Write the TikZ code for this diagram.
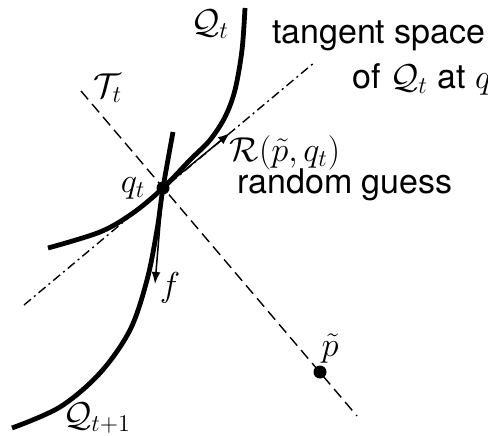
\documentclass[tikz,border=0pt]{standalone}
\usepackage[no-math]{fontspec}
\setmainfont{TeX Gyre Heros}
\usetikzlibrary{arrows.meta,calc}
\begin{document}
\begin{tikzpicture}[x=0.5pt,y=-0.5pt,
  curve/.style={line width=2.4pt},
  normline/.style={line width=0.7pt, dash pattern=on 5.5pt off 3pt},
  tanline/.style={line width=0.7pt, dash pattern=on 4.5pt off 2pt on 1pt off 2pt},
  vec/.style={line width=0.75pt, -{Latex[length=6pt,width=4.4pt]}},
  dotpt/.style={circle, fill=black, inner sep=0pt, minimum size=6.5pt},
  lbl/.style={inner sep=0pt, font=\fontsize{17}{20}\selectfont},
]
\useasboundingbox (0,0) rectangle (488,435);
% tangent line and normal line
\coordinate (ta) at (24,305);
\coordinate (tb) at (315,62);
\coordinate (na) at (81,91);
\coordinate (nb) at (357,416);
\draw[tanline] (ta) -- (tb);
\draw[normline] (na) -- (nb);
% right angle mark
\coordinate (qc) at (163,188);
\coordinate (r1) at ($(qc)!29!(tb)$);
\coordinate (r2) at ($(qc)!29!(nb)$);
\draw[line width=0.7pt] (r1) -- ($(r1)+(r2)-(qc)$) -- (r2);
% curves
\draw[curve] plot[smooth, tension=0.55] coordinates {(245,8) (242,50) (235,90) (225,117) (210,140) (190,160) (163,188) (133,213) (100,232) (48,248)};
\draw[curve] plot[smooth, tension=0.55] coordinates {(173,132) (163,188) (157,230) (147,280) (130,330) (100,373) (60,407) (12,428)};
% points
\node[dotpt] (q) at (qc) {};
\node[dotpt] (p) at (320,372) {};
% arrows
\coordinate (rend) at (230,133);
\coordinate (fend) at (155,284);
\draw[vec] (q.center) -- (rend);
\draw[vec] (q.center) -- (fend);
% labels
\node[lbl] (lQt) at (210,24) {$\mathcal{Q}_t$};
\node[lbl, anchor=base east] (ltan1) at (486,43) {tangent space};
\node[lbl, anchor=base west] (ltan2) at (352,88) {of $\mathcal{Q}_t$ at $q$};
\node[lbl] (lTt) at (108,88) {$\mathcal{T}_t$};
\node[lbl] (lR) at (285,153) {$\mathcal{R}(\tilde{p},q_t)$};
\node[lbl, anchor=base] (lrg) at (345,193) {random guess};
\node[lbl] (lq) at (133,188) {$q_t$};
\node[lbl] (lf) at (170,288) {$f$};
\node[lbl] (lp) at (330,349) {$\tilde{p}$};
\node[lbl] (lQ1) at (97,418) {$\mathcal{Q}_{t+1}$};
\end{tikzpicture}
\end{document}
